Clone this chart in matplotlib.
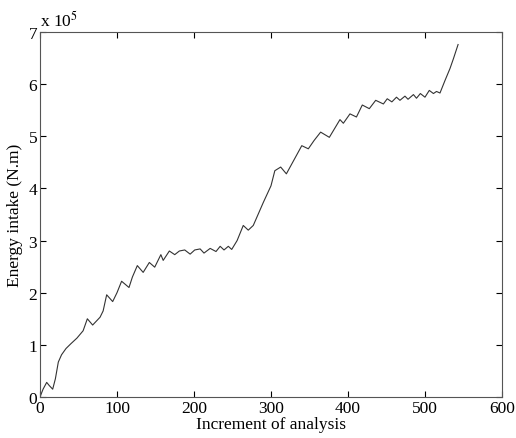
# Energy intake vs increment of analysis (MATLAB-style line plot)
import numpy as np
import matplotlib
matplotlib.use('Agg')
import matplotlib.pyplot as plt

plt.rcParams['font.family'] = ['Liberation Serif', 'DejaVu Serif']
plt.rcParams['mathtext.fontset'] = 'stix'

increment = [0, 4, 8.7, 12, 16.5, 20, 23.8, 28, 33.8, 40, 48, 56, 61.5, 68.4, 78,
             82, 86.6, 94.4, 100, 106, 115.6, 120, 126.4, 134, 142, 149, 157, 160,
             168, 175, 181, 188, 195, 201, 208, 213, 221, 228.6, 234, 239, 244.6,
             249, 256, 264, 270.5, 277, 290, 300, 305, 312.6, 320, 330, 340, 348.5,
             356, 364.5, 375.8, 389.6, 394, 402.6, 411, 418.6, 427.7, 436, 446, 451,
             457, 463, 467.5, 474, 478, 485, 489, 494, 500, 505.6, 511, 515, 519.5,
             526, 532.5, 537, 543]
energy = [0, 0.15, 0.28, 0.22, 0.15, 0.35, 0.67, 0.81, 0.93, 1.02, 1.13, 1.27, 1.50,
          1.38, 1.53, 1.65, 1.96, 1.83, 2.0, 2.22, 2.10, 2.30, 2.52, 2.39, 2.58, 2.49,
          2.73, 2.62, 2.80, 2.73, 2.80, 2.82, 2.74, 2.82, 2.84, 2.76, 2.85, 2.79, 2.89,
          2.82, 2.89, 2.83, 3.0, 3.29, 3.20, 3.29, 3.73, 4.05, 4.34, 4.41, 4.28, 4.55,
          4.82, 4.76, 4.92, 5.08, 4.98, 5.32, 5.25, 5.43, 5.37, 5.60, 5.53, 5.69, 5.62,
          5.72, 5.66, 5.75, 5.69, 5.77, 5.71, 5.80, 5.73, 5.82, 5.75, 5.88, 5.82, 5.86,
          5.83, 6.07, 6.30, 6.49, 6.76]

x_ticks = [0, 100, 200, 300, 400, 500, 600]
y_ticks = [0, 1, 2, 3, 4, 5, 6, 7]

fig = plt.figure(figsize=(5.16, 4.39), dpi=100)
ax = fig.add_axes([0.0775, 0.0934, 0.8953, 0.8314])

ax.plot(increment, energy, color='#333333', linewidth=0.8)

ax.set_xlim(0, 600)
ax.set_ylim(0, 7)
ax.set_xticks(x_ticks)
ax.set_yticks(y_ticks)
ax.tick_params(direction='in', top=True, right=True, length=4, width=0.8,
               labelsize=12.5, pad=2)
for s in ax.spines.values():
    s.set_linewidth(0.8)
    s.set_color('#555555')

ax.set_xlabel('Increment of analysis', fontsize=12.5, labelpad=0)
ax.set_ylabel('Energy intake (N.m)', fontsize=12.5, labelpad=4)
ax.text(0.0, 1.005, r'x 10$^5$', transform=ax.transAxes, fontsize=12.5,
        ha='left', va='bottom')

fig.savefig('out.png', dpi=100)
